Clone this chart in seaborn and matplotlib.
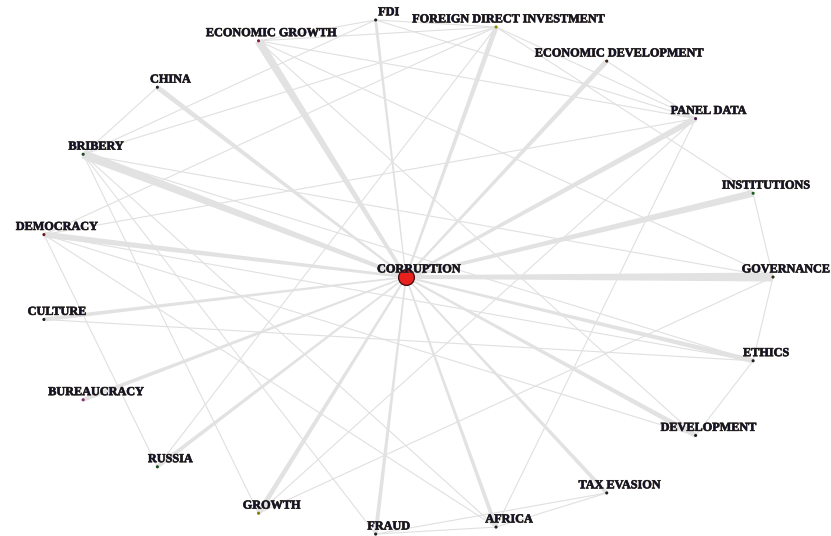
import numpy as np
import pandas as pd
import seaborn as sns
import matplotlib.pyplot as plt
import matplotlib.patheffects as pe
from matplotlib.patches import Polygon

sns.set_theme(style="white")
plt.rcParams['font.family'] = ['Liberation Serif', 'DejaVu Serif']

# ---------------------------------------------------------
# dati: parole chiave e legami
# ---------------------------------------------------------
hub = "CORRUPTION"

keywords = ["GOVERNANCE", "INSTITUTIONS", "PANEL DATA", "ECONOMIC DEVELOPMENT",
            "FOREIGN DIRECT INVESTMENT", "FDI", "ECONOMIC GROWTH", "CHINA",
            "BRIBERY", "DEMOCRACY", "CULTURE", "BUREAUCRACY", "RUSSIA",
            "GROWTH", "FRAUD", "AFRICA", "TAX EVASION", "DEVELOPMENT", "ETHICS"]

# forza del legame con CORRUPTION (spessore del tratto)
hub_strength = [9, 7, 6, 5, 5, 3, 8, 5, 9, 6, 4, 4, 4, 5, 4, 4, 4, 5, 5]

# legami deboli tra le altre parole chiave
edge_src = ["FDI", "FDI", "ECONOMIC GROWTH", "FDI", "FOREIGN DIRECT INVESTMENT",
            "FOREIGN DIRECT INVESTMENT", "FOREIGN DIRECT INVESTMENT",
            "FOREIGN DIRECT INVESTMENT", "FOREIGN DIRECT INVESTMENT", "FDI",
            "CHINA", "ECONOMIC GROWTH", "ECONOMIC GROWTH", "ECONOMIC GROWTH",
            "ECONOMIC DEVELOPMENT", "INSTITUTIONS", "GOVERNANCE", "ETHICS",
            "PANEL DATA", "BRIBERY", "BRIBERY", "BRIBERY", "BRIBERY", "BRIBERY",
            "DEMOCRACY", "DEMOCRACY", "DEMOCRACY", "DEMOCRACY", "DEMOCRACY",
            "CULTURE", "GROWTH", "GROWTH", "FRAUD", "FRAUD", "AFRICA"]
edge_dst = ["FOREIGN DIRECT INVESTMENT", "ECONOMIC GROWTH", "FOREIGN DIRECT INVESTMENT",
            "PANEL DATA", "PANEL DATA", "INSTITUTIONS", "BRIBERY", "DEMOCRACY",
            "RUSSIA", "BRIBERY", "BRIBERY", "GOVERNANCE", "DEVELOPMENT",
            "PANEL DATA", "PANEL DATA", "GOVERNANCE", "ETHICS", "DEVELOPMENT",
            "AFRICA", "GOVERNANCE", "ETHICS", "GROWTH", "FRAUD", "AFRICA",
            "PANEL DATA", "RUSSIA", "DEVELOPMENT", "AFRICA", "ETHICS",
            "ETHICS", "GOVERNANCE", "PANEL DATA", "AFRICA", "TAX EVASION",
            "TAX EVASION"]

node_colors = ["#3a2a10", "#1f5a1f", "#4a1a4a", "#402010", "#8a8a00", "#202020",
               "#8a1a4a", "#202020", "#1a4a1a", "#6a1a1a", "#202020", "#8a2a6a",
               "#1a4a1a", "#8a7a00", "#202020", "#202020", "#202020", "#202020",
               "#202020"]

# ---------------------------------------------------------
# layout circolare (hub al centro)
# ---------------------------------------------------------
ang = 2 * np.pi * np.arange(len(keywords)) / len(keywords)
pos = {k: (np.cos(a), np.sin(a)) for k, a in zip(keywords, ang)}
pos[hub] = (0.0, 0.0)

nodes = pd.DataFrame({"label": keywords,
                      "x": [pos[k][0] for k in keywords],
                      "y": [pos[k][1] for k in keywords],
                      "color": node_colors})

fig = plt.figure(figsize=(8.31, 5.36), dpi=100)
ax = fig.add_axes([0, 0, 1, 1])
ax.set_xlim(-1.106, 1.158)
ax.set_ylim(-1.004, 1.074)
ax.axis("off")
fig.canvas.draw()

# legami deboli
for s, d in zip(edge_src, edge_dst):
    ax.plot([pos[s][0], pos[d][0]], [pos[s][1], pos[d][1]],
            color="#e0e0e0", lw=0.8, zorder=1)

# legami con il nodo centrale (leggermente rastremati)
to_px = ax.transData.transform
for k, w in zip(keywords, hub_strength):
    p0 = to_px(pos[hub])
    p1 = to_px(pos[k])
    v = p1 - p0
    n = np.array([-v[1], v[0]]) / np.hypot(*v)
    w0, w1 = w * 0.4 / 2, w / 2
    poly = [p0 + n * w0, p1 + n * w1, p1 - n * w1, p0 - n * w0]
    ax.add_patch(Polygon(poly, closed=True, transform=None,
                         facecolor="#e2e2e2", edgecolor="none", zorder=2))

# nodi
sns.scatterplot(data=nodes, x="x", y="y", hue="label",
                palette=dict(zip(keywords, node_colors)),
                s=5, linewidth=0, legend=False, ax=ax, zorder=3)
ax.scatter([0], [0], s=130, color="#e8201e", edgecolor="#3a0a0a",
           linewidth=0.9, zorder=4)

for k in keywords + [hub]:
    ax.annotate(k, pos[k], xytext=(9.5, 5.5), textcoords="offset points",
                ha="center", va="center", fontsize=8.8, fontweight="bold",
                color="#141428", zorder=5,
                path_effects=[pe.withStroke(linewidth=0.5, foreground="#3a3020")])

fig.savefig("out.png", dpi=100)
